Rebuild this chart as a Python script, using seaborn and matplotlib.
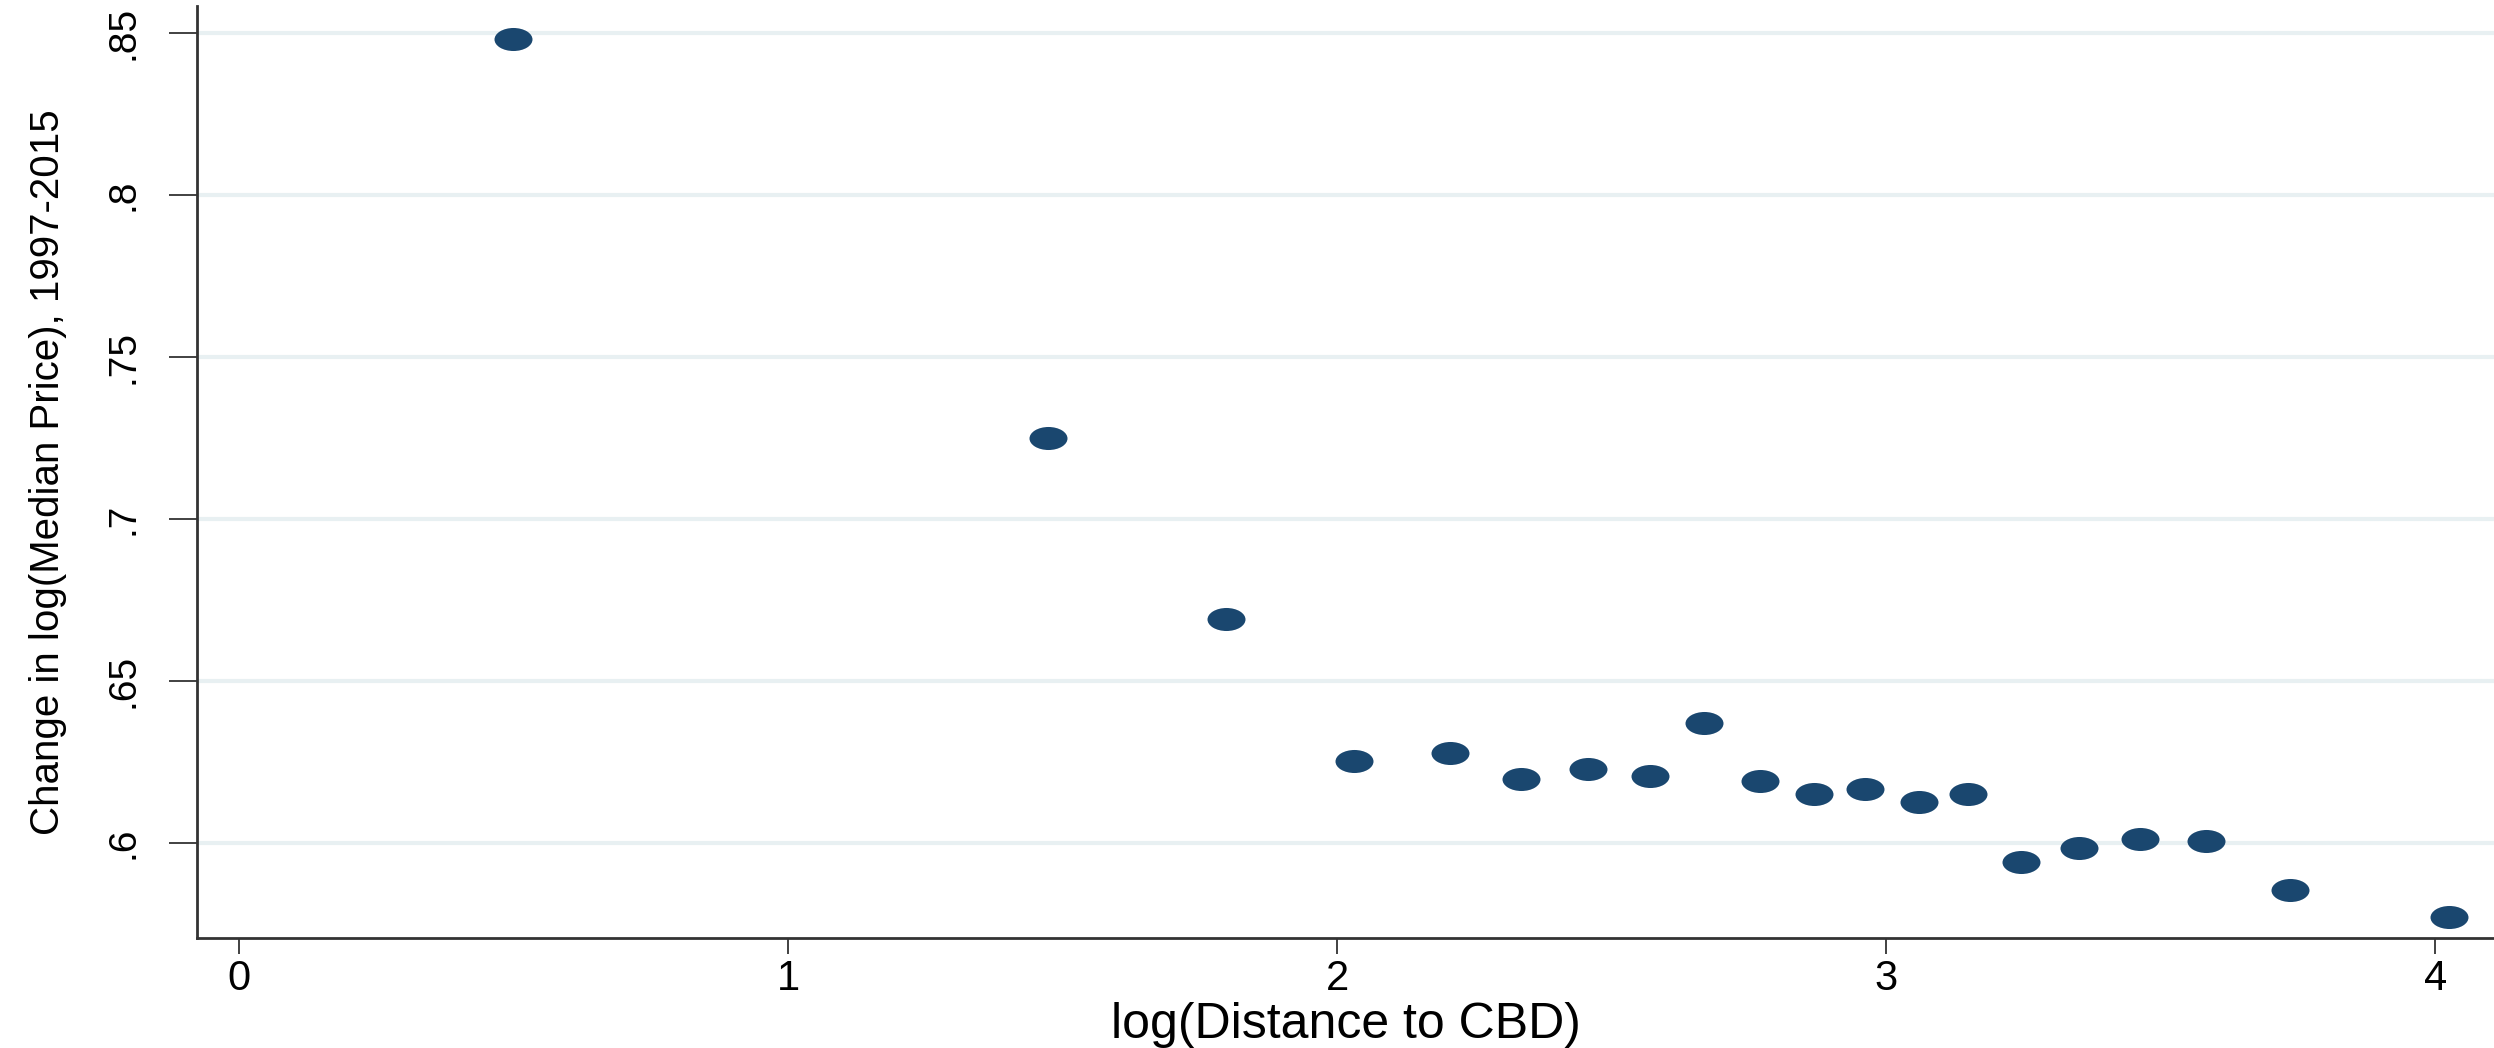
import numpy as np
import pandas as pd
import matplotlib
matplotlib.use("Agg")
import matplotlib.pyplot as plt
from matplotlib.path import Path
import seaborn as sns

# Binned scatter: log distance to CBD vs. change in log median price
log_distance = [0.499, 1.473, 1.798, 2.030, 2.206, 2.335, 2.456, 2.570, 2.669, 2.771,
                2.869, 2.962, 3.059, 3.149, 3.245, 3.352, 3.462, 3.582, 3.735, 4.025]
price_change = [0.8483, 0.7251, 0.6691, 0.6252, 0.6277, 0.6198, 0.6228, 0.6207, 0.6370, 0.6190,
                0.6150, 0.6166, 0.6126, 0.6150, 0.5940, 0.5985, 0.6013, 0.6005, 0.5855, 0.5773]

x_ticks = [0, 1, 2, 3, 4]
x_tick_labels = ["0", "1", "2", "3", "4"]
y_ticks = [0.60, 0.65, 0.70, 0.75, 0.80, 0.85]
y_tick_labels = [".6", ".65", ".7", ".75", ".8", ".85"]

x_title = "log(Distance to CBD)"
y_title = "Change in log(Median Price), 1997-2015"

df = pd.DataFrame({"dist": log_distance, "change": price_change})

sns.set_theme(style="white")
plt.rcParams["font.family"] = ["Liberation Sans", "DejaVu Sans"]

navy = "#1A476F"
grid_color = "#E8F0F2"
axis_color = "#333333"

fig = plt.figure(figsize=(24.94, 10.48), dpi=100)
ax = fig.add_axes([0.079, 0.105, 0.921, 0.889])

# wide elliptical marker
circle = Path.unit_circle()
ellipse = Path(circle.vertices * np.array([1.65, 1.0]), circle.codes)

sns.scatterplot(data=df, x="dist", y="change", ax=ax, marker=ellipse,
                s=(38 * 0.72) ** 2, color=navy, linewidth=0, zorder=3, legend=False)

ax.set_xlim(-0.0765, 4.107)
ax.set_ylim(0.5707, 0.8583)

ax.set_xticks(x_ticks)
ax.set_xticklabels(x_tick_labels, fontsize=30)
ax.set_yticks(y_ticks)
ax.set_yticklabels(y_tick_labels, fontsize=28, rotation=90, va="center")

ax.yaxis.grid(True, color=grid_color, linewidth=3.0)
ax.xaxis.grid(False)
ax.set_axisbelow(True)

for side in ["top", "right"]:
    ax.spines[side].set_visible(False)
for side in ["left", "bottom"]:
    ax.spines[side].set_color(axis_color)
    ax.spines[side].set_linewidth(2.0)

ax.tick_params(axis="x", which="major", direction="out", length=11.5, width=1.3,
               color=axis_color, pad=4, labelcolor="black", bottom=True)
ax.tick_params(axis="y", which="major", direction="out", length=20, width=1.3,
               color=axis_color, pad=20, labelcolor="black", left=True)

ax.set_xlabel(x_title, fontsize=36, color="black", va="baseline")
ax.set_ylabel(y_title, fontsize=29, color="black")
ax.xaxis.set_label_coords(0.5, -0.1073)
ax.yaxis.set_label_coords(-0.0566, 0.5)

fig.savefig("out.png", dpi=100, facecolor="white")
